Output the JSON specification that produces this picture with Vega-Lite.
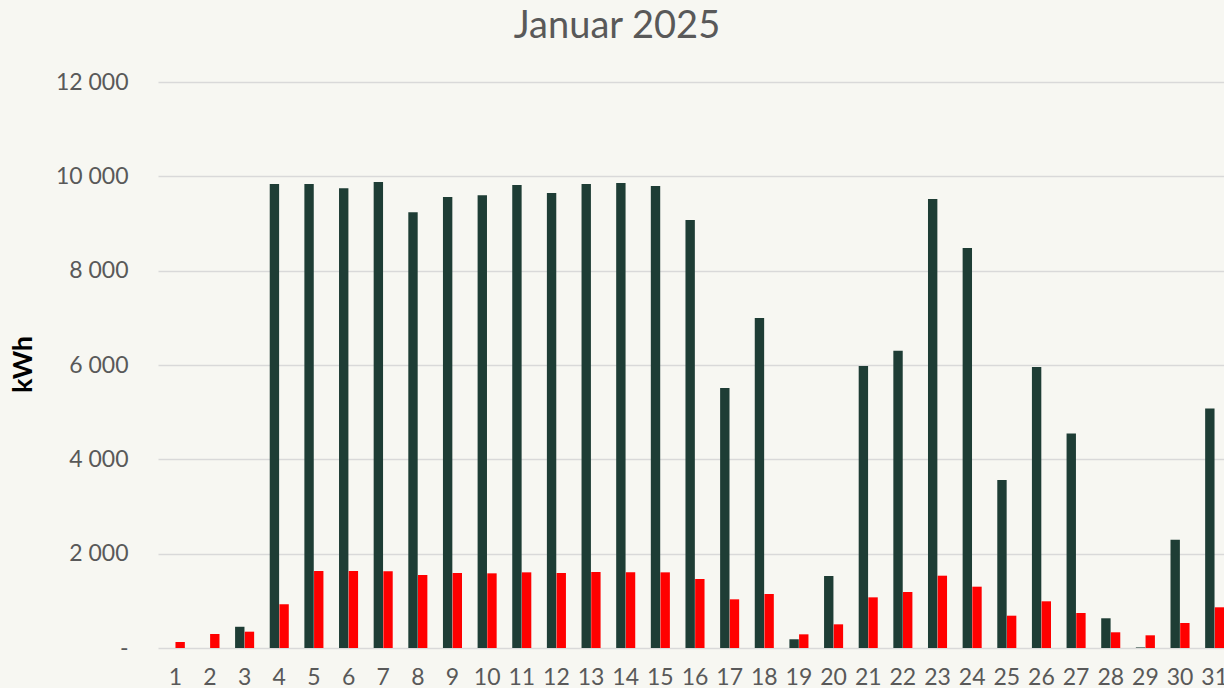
{
  "$schema": "https://vega.github.io/schema/vega-lite/v6.json",
  "autosize": {"type": "none"},
  "padding": {"left": 158, "top": 82, "right": 0, "bottom": 40},
  "width": 1074,
  "height": 566,
  "background": "#f7f7f2",
  "title": {
    "text": "Januar 2025",
    "font": "Lato",
    "fontSize": 38,
    "fontWeight": "normal",
    "color": "#595959",
    "anchor": "middle",
    "dx": -78,
    "offset": 25
  },
  "config": {
    "view": {"stroke": null},
    "font": "Lato"
  },
  "data": {
    "values": [
      {"day": 1, "serie": "Serie 1", "kWh": 0}, {"day": 1, "serie": "Serie 2", "kWh": 127},
      {"day": 2, "serie": "Serie 1", "kWh": 0}, {"day": 2, "serie": "Serie 2", "kWh": 297},
      {"day": 3, "serie": "Serie 1", "kWh": 450}, {"day": 3, "serie": "Serie 2", "kWh": 346},
      {"day": 4, "serie": "Serie 1", "kWh": 9840}, {"day": 4, "serie": "Serie 2", "kWh": 926},
      {"day": 5, "serie": "Serie 1", "kWh": 9840}, {"day": 5, "serie": "Serie 2", "kWh": 1632},
      {"day": 6, "serie": "Serie 1", "kWh": 9750}, {"day": 6, "serie": "Serie 2", "kWh": 1632},
      {"day": 7, "serie": "Serie 1", "kWh": 9880}, {"day": 7, "serie": "Serie 2", "kWh": 1625},
      {"day": 8, "serie": "Serie 1", "kWh": 9240}, {"day": 8, "serie": "Serie 2", "kWh": 1548},
      {"day": 9, "serie": "Serie 1", "kWh": 9560}, {"day": 9, "serie": "Serie 2", "kWh": 1590},
      {"day": 10, "serie": "Serie 1", "kWh": 9600}, {"day": 10, "serie": "Serie 2", "kWh": 1583},
      {"day": 11, "serie": "Serie 1", "kWh": 9815}, {"day": 11, "serie": "Serie 2", "kWh": 1604},
      {"day": 12, "serie": "Serie 1", "kWh": 9645}, {"day": 12, "serie": "Serie 2", "kWh": 1590},
      {"day": 13, "serie": "Serie 1", "kWh": 9840}, {"day": 13, "serie": "Serie 2", "kWh": 1611},
      {"day": 14, "serie": "Serie 1", "kWh": 9860}, {"day": 14, "serie": "Serie 2", "kWh": 1606},
      {"day": 15, "serie": "Serie 1", "kWh": 9795}, {"day": 15, "serie": "Serie 2", "kWh": 1604},
      {"day": 16, "serie": "Serie 1", "kWh": 9075}, {"day": 16, "serie": "Serie 2", "kWh": 1463},
      {"day": 17, "serie": "Serie 1", "kWh": 5510}, {"day": 17, "serie": "Serie 2", "kWh": 1032},
      {"day": 18, "serie": "Serie 1", "kWh": 6995}, {"day": 18, "serie": "Serie 2", "kWh": 1145},
      {"day": 19, "serie": "Serie 1", "kWh": 185}, {"day": 19, "serie": "Serie 2", "kWh": 290},
      {"day": 20, "serie": "Serie 1", "kWh": 1526}, {"day": 20, "serie": "Serie 2", "kWh": 502},
      {"day": 21, "serie": "Serie 1", "kWh": 5980}, {"day": 21, "serie": "Serie 2", "kWh": 1074},
      {"day": 22, "serie": "Serie 1", "kWh": 6300}, {"day": 22, "serie": "Serie 2", "kWh": 1187},
      {"day": 23, "serie": "Serie 1", "kWh": 9520}, {"day": 23, "serie": "Serie 2", "kWh": 1533},
      {"day": 24, "serie": "Serie 1", "kWh": 8480}, {"day": 24, "serie": "Serie 2", "kWh": 1300},
      {"day": 25, "serie": "Serie 1", "kWh": 3560}, {"day": 25, "serie": "Serie 2", "kWh": 685},
      {"day": 26, "serie": "Serie 1", "kWh": 5960}, {"day": 26, "serie": "Serie 2", "kWh": 990},
      {"day": 27, "serie": "Serie 1", "kWh": 4550}, {"day": 27, "serie": "Serie 2", "kWh": 742},
      {"day": 28, "serie": "Serie 1", "kWh": 630}, {"day": 28, "serie": "Serie 2", "kWh": 333},
      {"day": 29, "serie": "Serie 1", "kWh": 12}, {"day": 29, "serie": "Serie 2", "kWh": 269},
      {"day": 30, "serie": "Serie 1", "kWh": 2296}, {"day": 30, "serie": "Serie 2", "kWh": 530},
      {"day": 31, "serie": "Serie 1", "kWh": 5080}, {"day": 31, "serie": "Serie 2", "kWh": 863}
    ]
  },
  "mark": {"type": "bar"},
  "encoding": {
    "x": {
      "field": "day",
      "type": "ordinal",
      "sort": "ascending",
      "scale": {"paddingInner": 0.45, "paddingOuter": 0.225},
      "axis": {
        "title": null,
        "labelAngle": 0,
        "ticks": false,
        "domain": false,
        "grid": false,
        "labelFont": "Lato",
        "labelFontSize": 23,
        "labelColor": "#595959",
        "labelPadding": 18,
        "labelBaseline": "top"
      }
    },
    "xOffset": {
      "field": "serie",
      "type": "nominal",
      "scale": {"paddingInner": 0.03}
    },
    "y": {
      "field": "kWh",
      "type": "quantitative",
      "scale": {"domain": [0, 12000], "nice": false},
      "axis": {
        "values": [0, 2000, 4000, 6000, 8000, 10000, 12000],
        "labelExpr": "datum.value == 0 ? '-' : replace(format(datum.value, ','), ',', ' ')",
        "ticks": false,
        "domain": false,
        "grid": true,
        "gridColor": "#d9d9d9",
        "gridWidth": 1.5,
        "labelFont": "Lato",
        "labelFontSize": 23,
        "labelColor": "#595959",
        "labelPadding": 30,
        "title": "kWh",
        "titleFont": "Lato",
        "titleFontSize": 27,
        "titleFontWeight": "bold",
        "titleColor": "#000000",
        "titleAngle": -90,
        "titleX": -135,
        "titleY": 282,
        "titleAlign": "center",
        "titleBaseline": "middle"
      }
    },
    "color": {
      "field": "serie",
      "type": "nominal",
      "scale": {"domain": ["Serie 1", "Serie 2"], "range": ["#1e3d35", "#ff0000"]},
      "legend": null
    }
  }
}
